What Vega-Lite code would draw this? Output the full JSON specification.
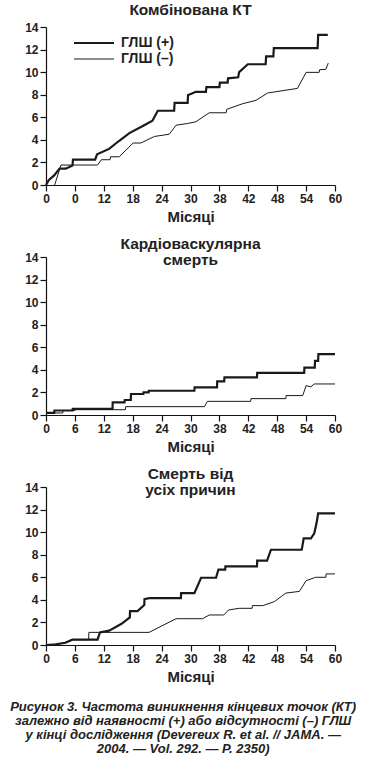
{
  "$schema": "https://vega.github.io/schema/vega-lite/v6.json",
  "background": "white",
  "padding": {"left": 10, "top": 2, "right": 4, "bottom": 2},
  "bounds": "flush",
  "spacing": 72,
  "title": {
    "text": ["Рисунок 3. Частота виникнення кінцевих точок (КТ)", "залежно від наявності (+) або відсутності (–) ГЛШ", "у кінці дослідження (Devereux R. et al. // JAMA. —", "2004. — Vol. 292. — P. 2350)"],
    "orient": "bottom", "anchor": "middle", "baseline": "top",
    "font": "Liberation Sans", "fontSize": 13, "fontWeight": "bold", "fontStyle": "italic",
    "lineHeight": 14, "offset": 17, "color": "#222222"
  },
  "datasets": {
    "kt": [
      {"g": "ГЛШ (+)", "m": 0, "v": 0}, {"g": "ГЛШ (+)", "m": 0.6, "v": 0.45}, {"g": "ГЛШ (+)", "m": 1.7, "v": 0.85}, {"g": "ГЛШ (+)", "m": 2.8, "v": 1.45}, {"g": "ГЛШ (+)", "m": 4.1, "v": 1.45}, {"g": "ГЛШ (+)", "m": 5.5, "v": 1.72}, {"g": "ГЛШ (+)", "m": 5.6, "v": 2.25}, {"g": "ГЛШ (+)", "m": 10.2, "v": 2.25}, {"g": "ГЛШ (+)", "m": 10.6, "v": 2.72}, {"g": "ГЛШ (+)", "m": 13.1, "v": 3.2}, {"g": "ГЛШ (+)", "m": 15.2, "v": 3.92}, {"g": "ГЛШ (+)", "m": 17.3, "v": 4.6}, {"g": "ГЛШ (+)", "m": 20.0, "v": 5.2}, {"g": "ГЛШ (+)", "m": 22.1, "v": 5.7}, {"g": "ГЛШ (+)", "m": 23.2, "v": 6.58}, {"g": "ГЛШ (+)", "m": 26.6, "v": 6.58}, {"g": "ГЛШ (+)", "m": 26.7, "v": 7.28}, {"g": "ГЛШ (+)", "m": 29.4, "v": 7.28}, {"g": "ГЛШ (+)", "m": 29.5, "v": 7.97}, {"g": "ГЛШ (+)", "m": 30.3, "v": 8.1}, {"g": "ГЛШ (+)", "m": 31.1, "v": 8.26}, {"g": "ГЛШ (+)", "m": 33.2, "v": 8.26}, {"g": "ГЛШ (+)", "m": 33.3, "v": 8.67}, {"g": "ГЛШ (+)", "m": 36.0, "v": 8.67}, {"g": "ГЛШ (+)", "m": 36.1, "v": 9.08}, {"g": "ГЛШ (+)", "m": 37.7, "v": 9.08}, {"g": "ГЛШ (+)", "m": 37.8, "v": 9.45}, {"g": "ГЛШ (+)", "m": 39.9, "v": 9.55}, {"g": "ГЛШ (+)", "m": 40.1, "v": 10.0}, {"g": "ГЛШ (+)", "m": 41.9, "v": 10.7}, {"g": "ГЛШ (+)", "m": 45.6, "v": 10.7}, {"g": "ГЛШ (+)", "m": 45.7, "v": 11.4}, {"g": "ГЛШ (+)", "m": 47.2, "v": 11.4}, {"g": "ГЛШ (+)", "m": 47.3, "v": 12.13}, {"g": "ГЛШ (+)", "m": 56.4, "v": 12.13}, {"g": "ГЛШ (+)", "m": 56.5, "v": 13.3}, {"g": "ГЛШ (+)", "m": 58.5, "v": 13.3},
      {"g": "ГЛШ (–)", "m": 1.8, "v": 0}, {"g": "ГЛШ (–)", "m": 3.1, "v": 1.77}, {"g": "ГЛШ (–)", "m": 10.7, "v": 1.77}, {"g": "ГЛШ (–)", "m": 11.5, "v": 2.24}, {"g": "ГЛШ (–)", "m": 13.3, "v": 2.24}, {"g": "ГЛШ (–)", "m": 13.4, "v": 2.5}, {"g": "ГЛШ (–)", "m": 15.2, "v": 2.5}, {"g": "ГЛШ (–)", "m": 18.1, "v": 3.72}, {"g": "ГЛШ (–)", "m": 19.7, "v": 3.72}, {"g": "ГЛШ (–)", "m": 22.5, "v": 4.3}, {"g": "ГЛШ (–)", "m": 25.6, "v": 4.5}, {"g": "ГЛШ (–)", "m": 27.0, "v": 5.3}, {"g": "ГЛШ (–)", "m": 29.4, "v": 5.45}, {"g": "ГЛШ (–)", "m": 31.1, "v": 5.6}, {"g": "ГЛШ (–)", "m": 33.9, "v": 6.4}, {"g": "ГЛШ (–)", "m": 37.4, "v": 6.4}, {"g": "ГЛШ (–)", "m": 37.5, "v": 6.7}, {"g": "ГЛШ (–)", "m": 40.8, "v": 7.2}, {"g": "ГЛШ (–)", "m": 43.6, "v": 7.5}, {"g": "ГЛШ (–)", "m": 46.0, "v": 8.15}, {"g": "ГЛШ (–)", "m": 52.2, "v": 8.56}, {"g": "ГЛШ (–)", "m": 54.0, "v": 9.98}, {"g": "ГЛШ (–)", "m": 56.7, "v": 9.98}, {"g": "ГЛШ (–)", "m": 56.8, "v": 10.22}, {"g": "ГЛШ (–)", "m": 58.1, "v": 10.25}, {"g": "ГЛШ (–)", "m": 58.6, "v": 10.8}
    ],
    "cv": [
      {"g": "ГЛШ (+)", "m": 0, "v": 0.18}, {"g": "ГЛШ (+)", "m": 1.7, "v": 0.18}, {"g": "ГЛШ (+)", "m": 1.75, "v": 0.4}, {"g": "ГЛШ (+)", "m": 5.5, "v": 0.4}, {"g": "ГЛШ (+)", "m": 5.55, "v": 0.55}, {"g": "ГЛШ (+)", "m": 13.8, "v": 0.55}, {"g": "ГЛШ (+)", "m": 13.85, "v": 1.12}, {"g": "ГЛШ (+)", "m": 16.3, "v": 1.12}, {"g": "ГЛШ (+)", "m": 16.35, "v": 1.33}, {"g": "ГЛШ (+)", "m": 17.6, "v": 1.33}, {"g": "ГЛШ (+)", "m": 17.65, "v": 1.86}, {"g": "ГЛШ (+)", "m": 20.2, "v": 1.86}, {"g": "ГЛШ (+)", "m": 20.25, "v": 2.0}, {"g": "ГЛШ (+)", "m": 21.3, "v": 2.0}, {"g": "ГЛШ (+)", "m": 21.35, "v": 2.15}, {"g": "ГЛШ (+)", "m": 30.8, "v": 2.15}, {"g": "ГЛШ (+)", "m": 30.85, "v": 2.45}, {"g": "ГЛШ (+)", "m": 35.5, "v": 2.45}, {"g": "ГЛШ (+)", "m": 35.55, "v": 2.98}, {"g": "ГЛШ (+)", "m": 37.0, "v": 2.98}, {"g": "ГЛШ (+)", "m": 37.05, "v": 3.34}, {"g": "ГЛШ (+)", "m": 43.8, "v": 3.34}, {"g": "ГЛШ (+)", "m": 43.85, "v": 3.73}, {"g": "ГЛШ (+)", "m": 53.6, "v": 3.73}, {"g": "ГЛШ (+)", "m": 53.65, "v": 4.2}, {"g": "ГЛШ (+)", "m": 55.8, "v": 4.2}, {"g": "ГЛШ (+)", "m": 55.85, "v": 4.8}, {"g": "ГЛШ (+)", "m": 56.5, "v": 4.8}, {"g": "ГЛШ (+)", "m": 56.55, "v": 5.4}, {"g": "ГЛШ (+)", "m": 60, "v": 5.4},
      {"g": "ГЛШ (–)", "m": 0, "v": 0.18}, {"g": "ГЛШ (–)", "m": 3.5, "v": 0.18}, {"g": "ГЛШ (–)", "m": 3.55, "v": 0.4}, {"g": "ГЛШ (–)", "m": 6.0, "v": 0.4}, {"g": "ГЛШ (–)", "m": 6.05, "v": 0.47}, {"g": "ГЛШ (–)", "m": 16.5, "v": 0.47}, {"g": "ГЛШ (–)", "m": 16.55, "v": 0.74}, {"g": "ГЛШ (–)", "m": 32.9, "v": 0.74}, {"g": "ГЛШ (–)", "m": 33.5, "v": 1.21}, {"g": "ГЛШ (–)", "m": 42.5, "v": 1.21}, {"g": "ГЛШ (–)", "m": 42.55, "v": 1.45}, {"g": "ГЛШ (–)", "m": 49.8, "v": 1.45}, {"g": "ГЛШ (–)", "m": 49.85, "v": 1.72}, {"g": "ГЛШ (–)", "m": 53.3, "v": 1.72}, {"g": "ГЛШ (–)", "m": 54.0, "v": 2.6}, {"g": "ГЛШ (–)", "m": 55.0, "v": 2.5}, {"g": "ГЛШ (–)", "m": 55.7, "v": 2.75}, {"g": "ГЛШ (–)", "m": 60, "v": 2.75}
    ],
    "all": [
      {"g": "ГЛШ (+)", "m": 0, "v": 0}, {"g": "ГЛШ (+)", "m": 2, "v": 0.05}, {"g": "ГЛШ (+)", "m": 4, "v": 0.2}, {"g": "ГЛШ (+)", "m": 5.5, "v": 0.47}, {"g": "ГЛШ (+)", "m": 10.7, "v": 0.47}, {"g": "ГЛШ (+)", "m": 11.2, "v": 1.12}, {"g": "ГЛШ (+)", "m": 13.1, "v": 1.27}, {"g": "ГЛШ (+)", "m": 15.6, "v": 1.86}, {"g": "ГЛШ (+)", "m": 17.4, "v": 2.45}, {"g": "ГЛШ (+)", "m": 17.45, "v": 3.0}, {"g": "ГЛШ (+)", "m": 19.0, "v": 3.0}, {"g": "ГЛШ (+)", "m": 20.4, "v": 3.54}, {"g": "ГЛШ (+)", "m": 20.45, "v": 4.07}, {"g": "ГЛШ (+)", "m": 21.4, "v": 4.15}, {"g": "ГЛШ (+)", "m": 28.0, "v": 4.15}, {"g": "ГЛШ (+)", "m": 28.05, "v": 4.6}, {"g": "ГЛШ (+)", "m": 30.8, "v": 4.6}, {"g": "ГЛШ (+)", "m": 32.2, "v": 5.96}, {"g": "ГЛШ (+)", "m": 35.3, "v": 5.96}, {"g": "ГЛШ (+)", "m": 35.8, "v": 6.67}, {"g": "ГЛШ (+)", "m": 37.2, "v": 6.67}, {"g": "ГЛШ (+)", "m": 37.25, "v": 6.97}, {"g": "ГЛШ (+)", "m": 43.8, "v": 6.97}, {"g": "ГЛШ (+)", "m": 43.85, "v": 7.47}, {"g": "ГЛШ (+)", "m": 45.9, "v": 7.47}, {"g": "ГЛШ (+)", "m": 46.7, "v": 8.44}, {"g": "ГЛШ (+)", "m": 53.1, "v": 8.44}, {"g": "ГЛШ (+)", "m": 53.5, "v": 9.45}, {"g": "ГЛШ (+)", "m": 55.0, "v": 9.45}, {"g": "ГЛШ (+)", "m": 55.7, "v": 9.9}, {"g": "ГЛШ (+)", "m": 56.2, "v": 10.87}, {"g": "ГЛШ (+)", "m": 56.5, "v": 11.66}, {"g": "ГЛШ (+)", "m": 60, "v": 11.66},
      {"g": "ГЛШ (–)", "m": 0, "v": 0}, {"g": "ГЛШ (–)", "m": 2, "v": 0.05}, {"g": "ГЛШ (–)", "m": 4, "v": 0.2}, {"g": "ГЛШ (–)", "m": 5.5, "v": 0.47}, {"g": "ГЛШ (–)", "m": 8.85, "v": 0.47}, {"g": "ГЛШ (–)", "m": 8.9, "v": 1.12}, {"g": "ГЛШ (–)", "m": 21.4, "v": 1.12}, {"g": "ГЛШ (–)", "m": 27.0, "v": 2.33}, {"g": "ГЛШ (–)", "m": 32.5, "v": 2.33}, {"g": "ГЛШ (–)", "m": 33.9, "v": 2.66}, {"g": "ГЛШ (–)", "m": 36.9, "v": 2.66}, {"g": "ГЛШ (–)", "m": 37.9, "v": 3.1}, {"g": "ГЛШ (–)", "m": 40.1, "v": 3.25}, {"g": "ГЛШ (–)", "m": 42.8, "v": 3.25}, {"g": "ГЛШ (–)", "m": 42.85, "v": 3.49}, {"g": "ГЛШ (–)", "m": 45.0, "v": 3.49}, {"g": "ГЛШ (–)", "m": 47.4, "v": 3.84}, {"g": "ГЛШ (–)", "m": 49.8, "v": 4.6}, {"g": "ГЛШ (–)", "m": 52.6, "v": 4.75}, {"g": "ГЛШ (–)", "m": 54.0, "v": 5.7}, {"g": "ГЛШ (–)", "m": 56.0, "v": 6.0}, {"g": "ГЛШ (–)", "m": 58.1, "v": 6.0}, {"g": "ГЛШ (–)", "m": 58.15, "v": 6.3}, {"g": "ГЛШ (–)", "m": 60, "v": 6.3}
    ]
  },
  "resolve": {"scale": {"strokeWidth": "independent"}, "legend": {"strokeWidth": "independent"}},
  "vconcat": [
    {
      "width": 289, "height": 158,
      "data": {"name": "kt"},
      "title": {"text": "Комбінована КТ", "offset": 3},
      "mark": {"type": "line", "color": "#1a1a1a"},
      "encoding": {
        "x": {"field": "m", "type": "quantitative", "scale": {"domain": [0, 60], "nice": false}, "axis": {"values": [0, 6, 12, 18, 24, 30, 36, 42, 48, 54, 60], "title": "Місяці", "labelExpr": "datum.value == 6 ? '0' : datum.value == 36 ? '38' : datum.label"}},
        "y": {"field": "v", "type": "quantitative", "scale": {"domain": [0, 14], "nice": false}, "axis": {"values": [0, 2, 4, 6, 8, 10, 12, 14], "title": null}},
        "strokeWidth": {"field": "g", "type": "nominal", "scale": {"domain": ["ГЛШ (+)", "ГЛШ (–)"], "range": [2.2, 1]},
          "legend": {"orient": "none", "legendX": 41, "legendY": 9, "title": null, "symbolType": "M-4,0H4", "symbolSize": 100, "symbolStrokeColor": "#1a1a1a", "symbolFillColor": "transparent", "labelFont": "Liberation Sans", "labelFontSize": 14, "labelFontWeight": "bold", "labelColor": "#222222", "labelOffset": 20, "rowPadding": 2, "padding": 0}}
      }
    },
    {
      "width": 289, "height": 158,
      "data": {"name": "cv"},
      "title": {"text": ["Кардіоваскулярна", "смерть"], "offset": -17},
      "mark": {"type": "line", "color": "#1a1a1a"},
      "encoding": {
        "x": {"field": "m", "type": "quantitative", "scale": {"domain": [0, 60], "nice": false}, "axis": {"values": [0, 6, 12, 18, 24, 30, 36, 42, 48, 54, 60], "title": "Місяці", "labelExpr": "datum.value == 36 ? '38' : datum.label"}},
        "y": {"field": "v", "type": "quantitative", "scale": {"domain": [0, 14], "nice": false}, "axis": {"values": [0, 2, 4, 6, 8, 10, 12, 14], "title": null}},
        "strokeWidth": {"field": "g", "type": "nominal", "scale": {"domain": ["ГЛШ (+)", "ГЛШ (–)"], "range": [2.2, 1]}, "legend": null}
      }
    },
    {
      "width": 289, "height": 158,
      "data": {"name": "all"},
      "title": {"text": ["Смерть від", "усіх причин"], "offset": -17},
      "mark": {"type": "line", "color": "#1a1a1a"},
      "encoding": {
        "x": {"field": "m", "type": "quantitative", "scale": {"domain": [0, 60], "nice": false}, "axis": {"values": [0, 6, 12, 18, 24, 30, 36, 42, 48, 54, 60], "title": "Місяці", "labelExpr": "datum.value == 36 ? '38' : datum.label"}},
        "y": {"field": "v", "type": "quantitative", "scale": {"domain": [0, 14], "nice": false}, "axis": {"values": [0, 2, 4, 6, 8, 10, 12, 14], "title": null}},
        "strokeWidth": {"field": "g", "type": "nominal", "scale": {"domain": ["ГЛШ (+)", "ГЛШ (–)"], "range": [2.2, 1]}, "legend": null}
      }
    }
  ],
  "config": {
    "view": {"stroke": null},
    "title": {"font": "Liberation Sans", "fontSize": 15.5, "fontWeight": "bold", "color": "#222222", "anchor": "middle", "baseline": "alphabetic", "lineHeight": 16},
    "axis": {"grid": false, "domainColor": "#111111", "tickColor": "#111111", "domainWidth": 1.2, "tickWidth": 1.2, "tickSize": 6, "labelFont": "Liberation Sans", "labelFontSize": 12, "labelFontWeight": "bold", "labelColor": "#222222", "titleFont": "Liberation Sans", "titleFontSize": 15, "titleFontWeight": "bold", "titleColor": "#222222"},
    "axisX": {"labelPadding": 2, "titlePadding": 5, "labelFlush": false},
    "axisY": {"labelPadding": 2}
  }
}
